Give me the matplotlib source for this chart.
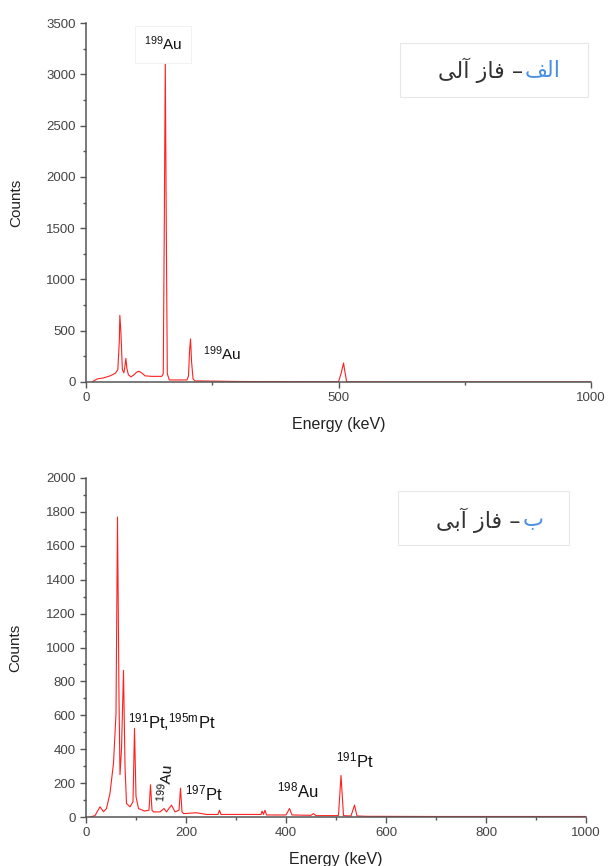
import matplotlib
matplotlib.use('Agg')
import matplotlib.pyplot as plt
from matplotlib.patches import Rectangle
from matplotlib.ticker import MultipleLocator

plt.rcParams['font.family'] = ['Liberation Sans', 'DejaVu Sans']
plt.rcParams['mathtext.default'] = 'regular'

# organic phase spectrum
energy_org = [12, 22, 35, 48, 58, 63, 66, 67, 69, 72, 75, 77, 79, 81, 84, 89, 95, 100, 105,
              110, 117, 130, 150, 153, 155, 157, 159, 161, 165, 180, 200, 203, 205, 207, 209,
              212, 216, 230, 260, 300, 400, 480, 500, 505, 510, 512, 516, 520, 540, 600, 800, 1000]
counts_org = [0, 30, 40, 60, 85, 120, 400, 650, 500, 120, 90, 150, 230, 130, 70, 50, 70, 95, 105,
              90, 60, 55, 55, 80, 1500, 3120, 1500, 80, 20, 20, 20, 60, 300, 420, 200,
              30, 10, 10, 8, 5, 3, 2, 3, 80, 185, 120, 5, 2, 2, 1, 1, 1]

# aqueous phase spectrum
energy_aq = [8, 18, 28, 35, 41, 48, 55, 60, 63, 66, 68, 71, 75, 78, 81, 88, 94, 97, 100, 105,
             117, 126, 129, 132, 135, 148, 156, 161, 171, 178, 186, 189, 192, 195, 221, 241,
             264, 267, 270, 275, 350, 352, 355, 358, 361, 400, 407, 412, 450, 455, 460, 500,
             505, 510, 515, 530, 537, 542, 560, 700, 1000]
counts_aq = [0, 8, 60, 31, 50, 140, 318, 610, 1770, 700, 250, 400, 865, 300, 80, 60, 90, 523, 120, 50,
             35, 40, 190, 40, 30, 30, 50, 30, 70, 30, 40, 170, 30, 20, 25, 15,
             15, 40, 15, 15, 15, 35, 15, 40, 12, 12, 50, 12, 10, 20, 8, 8,
             10, 245, 8, 6, 70, 6, 4, 3, 3]

# peak labels: (text, energy, counts)
labels_org = [(r'$^{199}$Au', 152, 3294), (r'$^{199}$Au', 232, 273)]
labels_aq = [(r'$^{191}$Pt,$^{195m}$Pt', 84, 560), (r'$^{197}$Pt', 198, 140),
             (r'$^{198}$Au', 382, 155), (r'$^{191}$Pt', 500, 336)]

W, H = 609, 866
fig = plt.figure(figsize=(W / 100, H / 100), dpi=100)


def fx(px):
    return px / W


def fy(py):
    return 1 - py / H


def style_axes(ax):
    for s in ['top', 'right']:
        ax.spines[s].set_visible(False)
    for s in ['left', 'bottom']:
        ax.spines[s].set_color('#555555')
        ax.spines[s].set_linewidth(1.1)
    ax.tick_params(which='major', direction='out', length=4, width=1, colors='#555555',
                   labelcolor='#444444', labelsize=9.5)
    ax.tick_params(which='minor', direction='out', length=2.5, width=1, colors='#555555')
    ax.set_xlabel('Energy (keV)', fontsize=11.5, color='#222222', labelpad=9)
    ax.set_ylabel('Counts', fontsize=11, color='#222222')


# top panel
ax1 = fig.add_axes([fx(86), fy(382), fx(505), (382 - 23) / H])
ax1.plot(energy_org, counts_org, color='#ff2020', lw=0.8)
ax1.set_xlim(0, 1000)
ax1.set_ylim(0, 3500)
ax1.xaxis.set_major_locator(MultipleLocator(500))
ax1.xaxis.set_minor_locator(MultipleLocator(250))
ax1.yaxis.set_major_locator(MultipleLocator(500))
ax1.yaxis.set_minor_locator(MultipleLocator(250))
style_axes(ax1)
ax1.yaxis.set_label_coords(-0.125, 0.5)
ax1.text(labels_org[0][1], labels_org[0][2], labels_org[0][0], fontsize=11, color='#111111',
         va='center', ha='center',
         bbox=dict(boxstyle='square,pad=0.6', fc='white', ec='#f0f0f0', lw=0.6))
ax1.text(labels_org[1][1], labels_org[1][2], labels_org[1][0], fontsize=11, color='#111111',
         va='center', ha='left')

# bottom panel
ax2 = fig.add_axes([fx(86), fy(817), fx(500), (817 - 478) / H])
ax2.plot(energy_aq, counts_aq, color='#ff2020', lw=0.8)
ax2.set_xlim(0, 1000)
ax2.set_ylim(0, 2000)
ax2.xaxis.set_major_locator(MultipleLocator(200))
ax2.xaxis.set_minor_locator(MultipleLocator(100))
ax2.yaxis.set_major_locator(MultipleLocator(200))
ax2.yaxis.set_minor_locator(MultipleLocator(100))
style_axes(ax2)
ax2.yaxis.set_label_coords(-0.127, 0.5)
for txt, x, y in labels_aq:
    ax2.text(x, y, txt, fontsize=12, color='#111111', va='center', ha='left')
ax2.text(158, 200, r'$^{199}$Au', fontsize=11, color='#111111', va='center', ha='center',
         rotation=85)

# Persian panel captions (presentation forms, visual order)
persian_body = ['\uFEF0\uFEDF\uFE81 \uFEAF\uFE8E\uFED3 \u2013', '\uFEF0\uFE91\uFE81 \uFEAF\uFE8E\uFED3 \u2013']
persian_head = ['\uFED2\uFEDF\uFE8D', '\uFE8F']
boxes = [(400, 43, 588, 97), (398, 491, 569, 545)]
splits = [(523, 70), (521, 520)]
for body, head, (x0, y0, x1, y1), (sx, sy) in zip(persian_body, persian_head, boxes, splits):
    fig.patches.append(Rectangle((fx(x0), fy(y1)), fx(x1 - x0), (y1 - y0) / H,
                                 transform=fig.transFigure, fc='white', ec='#e8e8e8', lw=0.8))
    fig.text(fx(sx), fy(sy), body, family='DejaVu Sans', fontsize=16,
             color='#333333', ha='right', va='center')
    fig.text(fx(sx + 2), fy(sy), head, family='DejaVu Sans', fontsize=16,
             color='#4a90e2', ha='left', va='center')

fig.savefig('out.png', dpi=100)
